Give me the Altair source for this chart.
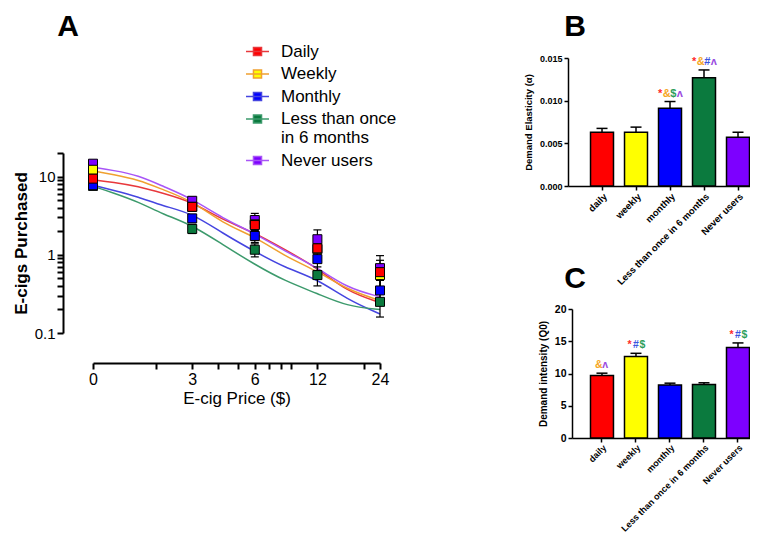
import altair as alt
import pandas as pd

FONT = "Liberation Sans"

# ---------------- Panel A: demand curves ----------------
groups = ["Daily", "Weekly", "Monthly", "Less than once in 6 months", "Never users"]
fill_colors = ["#ff0000", "#ffff00", "#0000ff", "#0b7a3e", "#7d00ff"]
line_colors = ["#e8383c", "#f0a030", "#4545e0", "#3c9a6c", "#a855f7"]

prices = [0, 3, 6, 12, 24]
daily_mean = [9.4, 4.1, 2.4, 1.21, 0.60]
weekly_mean = [12.2, 4.1, 2.45, 1.18, 0.55]
monthly_mean = [7.75, 2.92, 1.74, 0.88, 0.35]
less_mean = [7.6, 2.14, 1.16, 0.55, 0.25]
never_mean = [14.6, 4.9, 2.78, 1.58, 0.675]
daily_sem = [0.7, 0.4, 0.4, 0.3, 0.25]
weekly_sem = [0.9, 0.5, 0.5, 0.3, 0.2]
monthly_sem = [0.6, 0.35, 0.3, 0.25, 0.12]
less_sem = [0.8, 0.27, 0.22, 0.15, 0.09]
never_sem = [0.9, 0.55, 0.6, 0.5, 0.3]

curve_prices = [0, 1.25, 1.65, 2.17, 3, 4.2, 6, 8.4, 12, 16.6, 24]
daily_curve = [9.1, 8.5, 7.5, 6.1, 4.75, 2.78, 1.92, 1.16, 0.68, 0.34, 0.245]
weekly_curve = [11.8, 10.6, 9.1, 6.8, 4.9, 2.52, 1.71, 0.95, 0.62, 0.36, 0.26]
monthly_curve = [7.75, 6.7, 5.5, 4.2, 3.4, 1.88, 1.1, 0.68, 0.49, 0.27, 0.175]
less_curve = [7.5, 6.2, 4.75, 3.3, 2.4, 1.35, 0.75, 0.46, 0.32, 0.22, 0.20]
never_curve = [13.2, 12.0, 10.4, 7.5, 5.2, 2.92, 1.88, 1.1, 0.69, 0.376, 0.29]

x_tick_values = [1, 2, 3, 4, 5, 6, 7, 8, 9, 12, 20, 24]
y_tick_values = [0.1, 0.2, 0.3, 0.4, 0.5, 0.6, 0.7, 0.8, 0.9,
                 1, 2, 3, 4, 5, 6, 7, 8, 9, 10, 20]

# ---------------- Panels B and C: bars ----------------
bar_categories = ["daily", "weekly", "monthly", "Less than once in 6 months", "Never users"]
bar_colors = ["#ff0000", "#ffff00", "#0000ff", "#0b7a3e", "#7d00ff"]
elasticity = [0.0063, 0.0063, 0.0091, 0.0127, 0.0057]
elasticity_sem = [0.00045, 0.0006, 0.0008, 0.0009, 0.0006]
intensity = [9.69, 12.63, 8.2, 8.3, 14.02]
intensity_sem = [0.36, 0.5, 0.3, 0.26, 0.72]
elasticity_marks = ["", "", "*&$ʌ", "*&#ʌ", ""]
intensity_marks = ["&ʌ", "*#$", "", "", "*#$"]
mark_symbols = ["*", "&", "$", "#", "ʌ"]
mark_colors = ["#ff2a2a", "#f5a623", "#2e9e5b", "#3a55e0", "#9b4de0"]

# ---------------- layout helpers ----------------
W, H = 742, 527


def px(v):
    return v - 8  # page pixel -> plot pixel


def py(v):
    return v - 8


AXBASE = dict(labelFont=FONT, titleFont=FONT, labelColor="black", titleColor="black",
              domainColor="black", tickColor="black", grid=False,
              labelOverlap=False, labelFlush=False)

# ---------------- build panel A ----------------
means = [daily_mean, weekly_mean, monthly_mean, less_mean, never_mean]
sems = [daily_sem, weekly_sem, monthly_sem, less_sem, never_sem]
curves = [daily_curve, weekly_curve, monthly_curve, less_curve, never_curve]

# drawn from the last group to the first, so that Daily sits on top
pt_rows = []
for g, m, s in reversed(list(zip(groups, means, sems))):
    for p, mv, sv in zip(prices, m, s):
        pt_rows.append({"group": g, "price": p, "mean": mv, "lo": mv - sv, "hi": mv + sv})
pts_df = pd.DataFrame(pt_rows)

cv_rows = []
for g, c in zip(groups, curves):
    for p, v in zip(curve_prices, c):
        cv_rows.append({"group": g, "price": p, "value": v})
curve_df = pd.DataFrame(cv_rows)

POS = "datum.price === 0 ? 1 : datum.price"
xA = alt.Scale(type="log", domain=[1, 24], range=[px(93), px(380)], nice=False)
yA = alt.Scale(type="log", domain=[0.1, 20], range=[py(333), py(153)], nice=False)

axA_x = alt.Axis(orient="bottom", offset=py(363) - H, values=x_tick_values, format="d",
                 labelExpr="datum.value == 1 ? '0' : (indexof([3,6,12,24], datum.value) >= 0 ? datum.label : '')",
                 tickSize=6, tickWidth=2, domainWidth=2, labelFontSize=16, labelPadding=2,
                 title="E-cig Price ($)", titleFontSize=17, titleFontWeight="normal", titlePadding=3,
                 **AXBASE)
axA_y = alt.Axis(orient="left", offset=-px(63), values=y_tick_values, format="~g",
                 labelExpr="indexof([0.1,1,10], datum.value) >= 0 ? datum.label : ''",
                 tickSize=6, tickWidth=2, domainWidth=2, labelFontSize=15, labelPadding=2,
                 title="E-cigs Purchased", titleFontSize=17, titleFontWeight="bold", titlePadding=4,
                 **AXBASE)

legA = alt.Legend(title=None, orient="none", legendX=px(245), legendY=py(39), padding=0,
                  symbolType="M-1,0H1M-0.35,-0.35H0.35V0.35H-0.35Z", symbolSize=529,
                  symbolStrokeWidth=1.5, labelFont=FONT, labelFontSize=17, labelColor="black",
                  labelOffset=11, labelLimit=400, rowPadding=1.5,
                  labelExpr="datum.label == 'Less than once in 6 months' ? ['Less than once', 'in 6 months'] : datum.label")

lines = alt.Chart(curve_df).transform_calculate(pos=POS).mark_line(
    interpolate="basis", strokeWidth=1.5
).encode(
    x=alt.X("pos:Q", scale=xA, axis=axA_x),
    y=alt.Y("value:Q", scale=yA, axis=axA_y),
    stroke=alt.Stroke("group:N", scale=alt.Scale(domain=groups, range=line_colors), legend=legA),
)
errs = alt.Chart(pts_df).transform_calculate(pos=POS).mark_rule(color="black", strokeWidth=1.2).encode(
    x=alt.X("pos:Q", scale=xA, axis=None),
    y=alt.Y("lo:Q", scale=yA, axis=None),
    y2="hi:Q",
)
caps = alt.Chart(pts_df).transform_calculate(pos=POS).transform_fold(
    ["lo", "hi"], as_=["which", "capv"]
).mark_point(shape="M-1,0H1", size=64, filled=False, stroke="black", strokeWidth=1.2, opacity=1).encode(
    x=alt.X("pos:Q", scale=xA, axis=None),
    y=alt.Y("capv:Q", scale=yA, axis=None),
)
points = alt.Chart(pts_df).transform_calculate(pos=POS).mark_point(
    shape="square", size=81, filled=True, stroke="black", strokeWidth=1, opacity=1
).encode(
    x=alt.X("pos:Q", scale=xA, axis=None),
    y=alt.Y("mean:Q", scale=yA, axis=None),
    fill=alt.Fill("group:N", scale=alt.Scale(domain=groups, range=fill_colors), legend=legA),
)
layers_all = [lines, errs, caps, points]


# ---------------- build panels B and C ----------------
def bar_panel(values, sems_, marks, x_left, x_right, y_bottom, y_top, ydomain, yvalues, yfmt,
              ytitle, po, align, lab_size, xlab_size, tick_lab_size, spacing, shift, ann_size):
    df = pd.DataFrame({"cat": bar_categories, "val": values, "sem": sems_, "col": bar_colors})
    df["top"] = df["val"] + df["sem"]
    xs = alt.Scale(type="band", domain=bar_categories, range=[px(x_left), px(x_right)],
                   paddingInner=0.324, paddingOuter=po, align=align)
    ys = alt.Scale(domain=ydomain, range=[py(y_bottom), py(y_top)], nice=False, zero=True)
    xax = alt.Axis(orient="bottom", offset=py(y_bottom) - H, labelAngle=-45, labelFontSize=xlab_size,
                   labelFontWeight="bold", tickSize=4, tickWidth=1.5, domainWidth=1.5, labelPadding=1,
                   title=None, **AXBASE)
    yax = alt.Axis(orient="left", offset=-px(x_left), values=yvalues, format=yfmt, tickSize=4,
                   tickWidth=1.5, domainWidth=1.5, labelFontSize=tick_lab_size, labelFontWeight="bold",
                   labelPadding=2, title=ytitle, titleFontSize=lab_size, titleFontWeight="bold",
                   titlePadding=6, **AXBASE)
    bars = alt.Chart(df).mark_bar(stroke="black", strokeWidth=1.5).encode(
        x=alt.X("cat:N", scale=xs, axis=xax, sort=bar_categories),
        y=alt.Y("val:Q", scale=ys, axis=yax),
        fill=alt.Fill("col:N", scale=None),
    )
    rule = alt.Chart(df).mark_rule(color="black", strokeWidth=1.5).encode(
        x=alt.X("cat:N", scale=xs, axis=None, sort=bar_categories),
        y=alt.Y("val:Q", scale=ys, axis=None),
        y2="top:Q",
    )
    cap = alt.Chart(df).mark_point(shape="M-1,0H1", size=121, filled=False, stroke="black",
                                   strokeWidth=1.5, opacity=1).encode(
        x=alt.X("cat:N", scale=xs, axis=None, sort=bar_categories),
        y=alt.Y("top:Q", scale=ys, axis=None),
    )
    layers = [bars, rule, cap]
    rows = []
    for cat, s, v, e in zip(bar_categories, marks, values, sems_):
        n = len(s)
        for i, ch in enumerate(s):
            rows.append({"cat": cat, "sym": ch, "slot": i - (n - 1) / 2, "top": v + e,
                         "col": mark_colors[mark_symbols.index(ch)]})
    adf = pd.DataFrame(rows)
    for slot in sorted(adf["slot"].unique()):
        sub = adf[adf["slot"] == slot]
        layers.append(
            alt.Chart(sub).mark_text(dx=float(slot) * spacing + shift, dy=-3, baseline="bottom", font=FONT,
                                     fontSize=ann_size, fontWeight="bold").encode(
                x=alt.X("cat:N", scale=xs, axis=None, sort=bar_categories),
                y=alt.Y("top:Q", scale=ys, axis=None),
                text="sym:N",
                color=alt.Color("col:N", scale=None),
            )
        )
    return layers


layers_all += bar_panel(elasticity, elasticity_sem, elasticity_marks, 568, 752, 186, 58,
                        [0, 0.015], [0, 0.005, 0.01, 0.015], ".3f", "Demand Elasticity (α)",
                        0.368, 0.9, 9.5, 9.5, 9, 6.5, 0, 11)
layers_all += bar_panel(intensity, intensity_sem, intensity_marks, 572, 752, 438, 309,
                        [0, 20], [0, 5, 10, 15, 20], "d", "Demand intensity (Q0)",
                        0.309, 0.88, 10, 9, 10.5, 6.5, 0, 10.5)


# ---------------- panel letters ----------------
def letter(t, cx, base):
    return alt.Chart(pd.DataFrame({"t": [t]})).mark_text(
        font=FONT, fontSize=30, fontWeight="bold", align="center", baseline="alphabetic", color="black"
    ).encode(text="t:N", x=alt.value(px(cx)), y=alt.value(py(base)))


layers_all += [letter("A", 68, 36), letter("B", 575, 36), letter("C", 575, 288)]

chart = alt.layer(*layers_all).resolve_scale(
    x="independent", y="independent"
).resolve_axis(
    x="independent", y="independent"
).properties(
    width=W, height=H, padding=0, autosize=alt.AutoSizeParams(type="none"),
).configure_view(stroke=None)

chart.save("out.html", embed_options={"renderer": "svg", "actions": False})
